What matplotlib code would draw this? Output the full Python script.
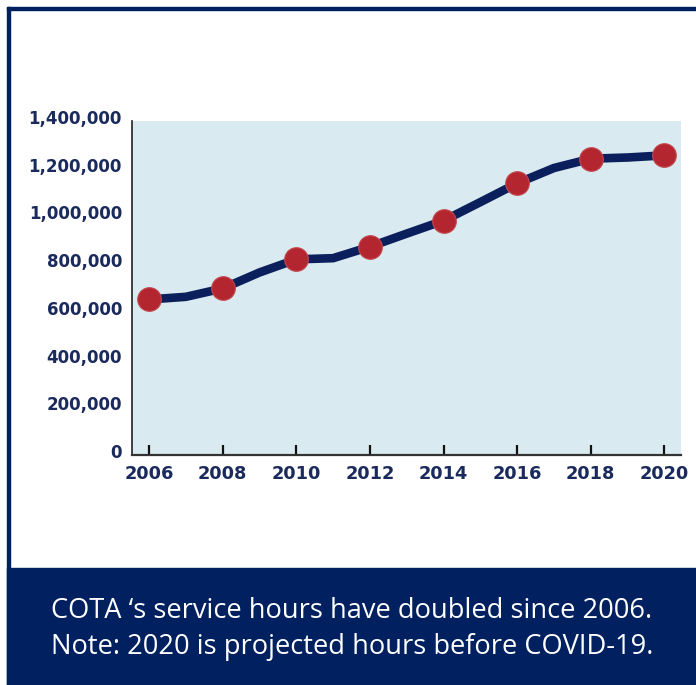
import numpy as np
import matplotlib
matplotlib.use("Agg")
import matplotlib.pyplot as plt
import matplotlib.transforms as mtransforms
from matplotlib.patches import Rectangle
from matplotlib.ticker import FuncFormatter

# Yearly COTA service hours (markers every 2 years)
years = [2006, 2007, 2008, 2009, 2010, 2011, 2012, 2013,
         2014, 2015, 2016, 2017, 2018, 2019, 2020]
hours = [652000, 663000, 698000, 765000, 820000, 825000, 873000, 928000,
         982000, 1060000, 1139000, 1203000, 1242000, 1247000, 1256000]
x_ticks = [2006, 2008, 2010, 2012, 2014, 2016, 2018, 2020]
y_ticks = [0, 200000, 400000, 600000, 800000, 1000000, 1200000, 1400000]
caption = ("COTA \u2018s service hours have doubled since 2006.\n"
           "Note: 2020 is projected hours before COVID-19.")

navy = "#002060"
text_navy = "#1b2a5c"
line_navy = "#0b1f5c"
red = "#b3262f"
panel = "#d9ebf0"

W, H = 696, 685
fig = plt.figure(figsize=(W / 100, H / 100), dpi=100, facecolor="white")

# outer frame: top and left rules, navy caption band at the bottom
fig.patches.append(Rectangle((7 / W, 1 - 10 / H), 1, 3 / H, transform=fig.transFigure,
                             color=navy, zorder=0))
fig.patches.append(Rectangle((7 / W, 0), 3 / W, 1 - 7 / H, transform=fig.transFigure,
                             color=navy, zorder=0))
fig.patches.append(Rectangle((7 / W, 0), 1, 117 / H, transform=fig.transFigure,
                             color=navy, zorder=0))

ax = fig.add_axes([131.7 / W, 230 / H, (681 - 131.7) / W, (455 - 121) / H], facecolor=panel)
ax.plot(years, hours, color=line_navy, lw=6.2, solid_joinstyle="round",
        solid_capstyle="round", zorder=2)
ax.plot(years[::2], hours[::2], "o", color=red, markersize=17,
        markeredgecolor="#c44850", markeredgewidth=0.8, zorder=3)

ax.set_xlim(2005.53, 2020.45)
ax.set_ylim(0, 1400000)
ax.set_xticks(x_ticks)
ax.set_yticks(y_ticks)
ax.yaxis.set_major_formatter(FuncFormatter(lambda v, p: f"{int(v):,}"))

for s in ["top", "right"]:
    ax.spines[s].set_visible(False)
ax.spines["left"].set_color("#222222")
ax.spines["left"].set_linewidth(1.2)
ax.spines["bottom"].set_color("#333333")
ax.spines["bottom"].set_linewidth(1.6)

ax.tick_params(axis="x", direction="in", length=7, width=1.6, color="#111111",
               pad=7, labelsize=12.8, labelcolor=text_navy)
ax.tick_params(axis="y", length=0, pad=7, labelsize=12, labelcolor=text_navy)
for lab in ax.get_xticklabels() + ax.get_yticklabels():
    lab.set_fontweight("bold")
# y labels sit a little above their values in the original
shift = mtransforms.ScaledTranslation(0, 4 / 100, fig.dpi_scale_trans)
for lab in ax.get_yticklabels():
    lab.set_transform(lab.get_transform() + shift)

fig.text(352 / W, 1 - 629 / H, caption, color="white", fontsize=19.6,
         family="Open Sans", ha="center", va="center", linespacing=1.35)

fig.savefig("out.png", dpi=100, facecolor="white")
